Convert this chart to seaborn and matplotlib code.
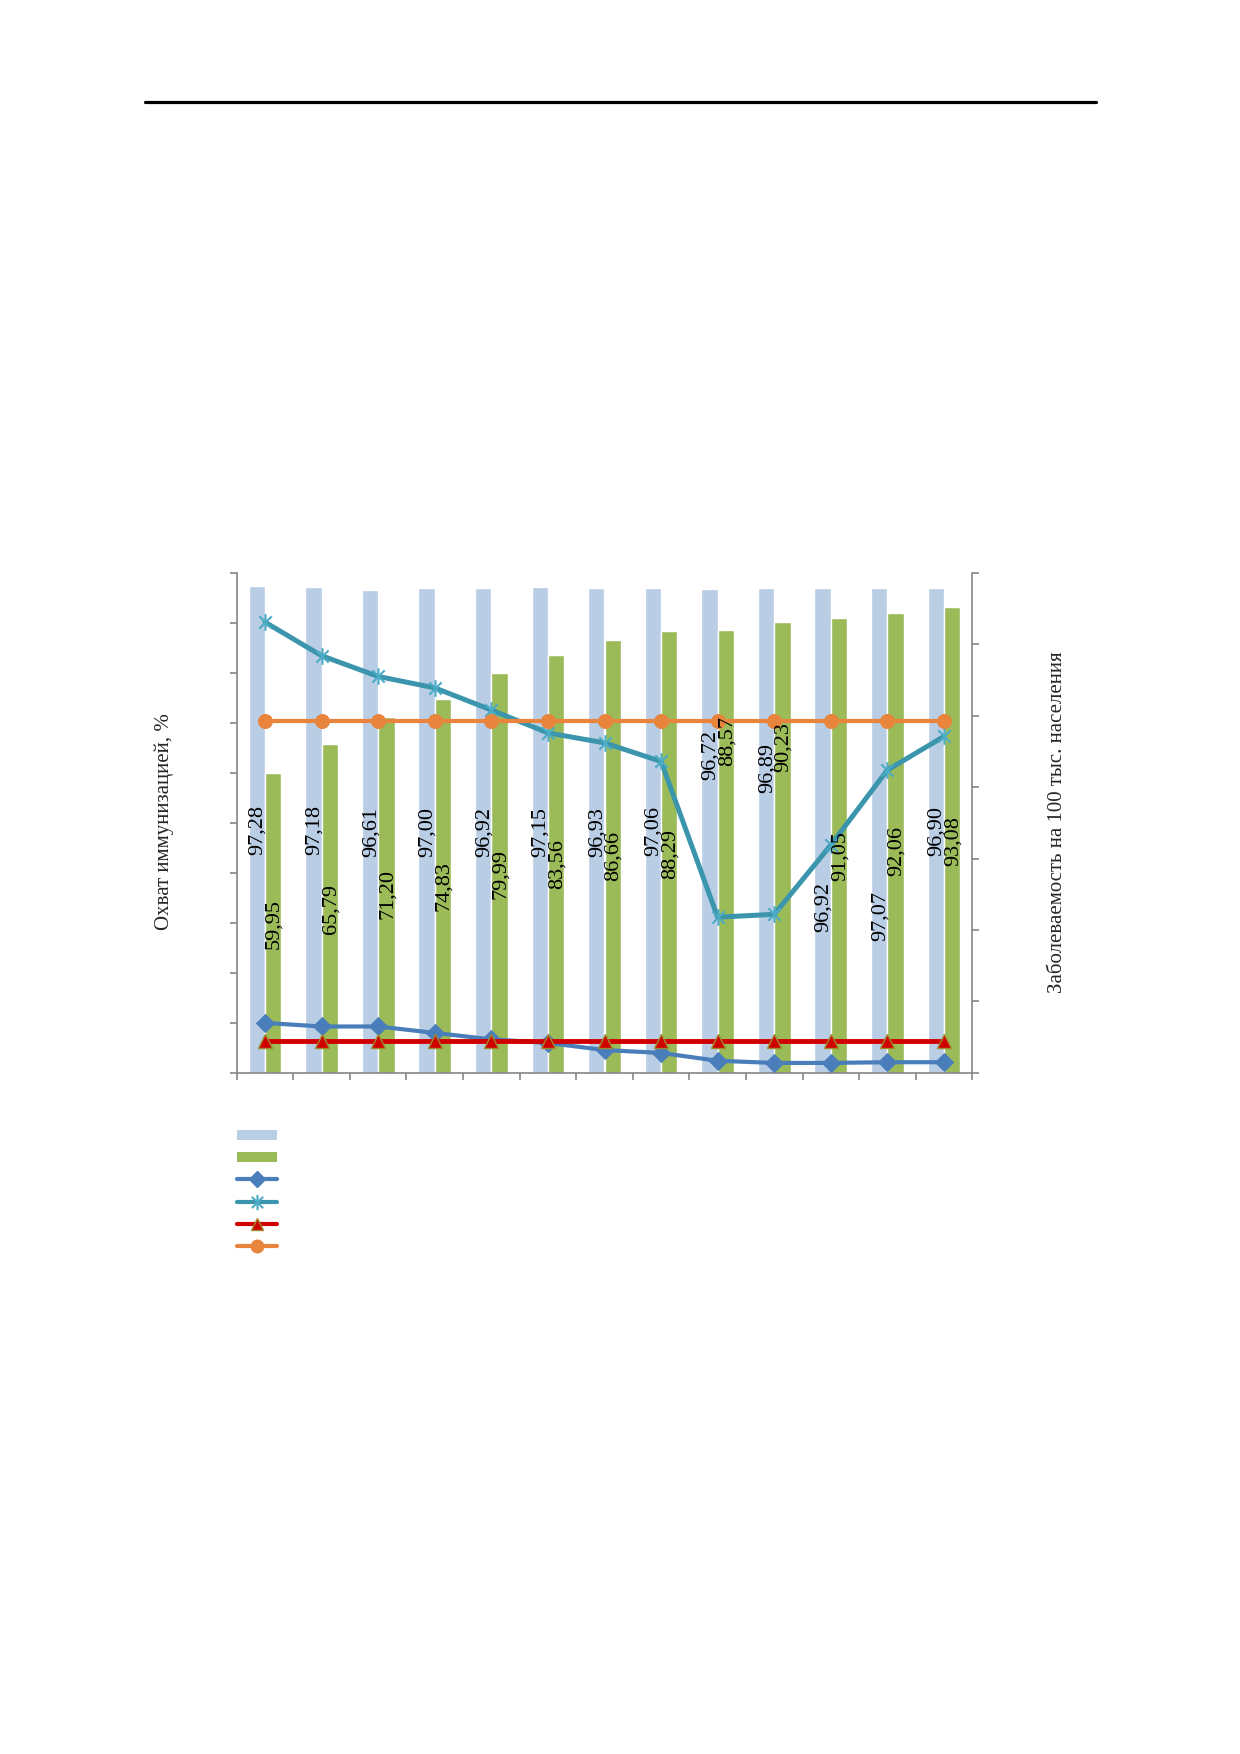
import numpy as np
import pandas as pd
import seaborn as sns
import matplotlib
matplotlib.use('Agg')
from matplotlib import pyplot as plt
from matplotlib.lines import Line2D
from matplotlib.patches import Patch
from matplotlib.path import Path

# data (no tick labels on the original)
years = ['2006', '2007', '2008', '2009', '2010', '2011', '2012',
         '2013', '2014', '2015', '2016', '2017', '2018']
coverage_a = [97.28, 97.18, 96.61, 97.00, 96.92, 97.15, 96.93,
              97.06, 96.72, 96.89, 96.92, 97.07, 96.90]
coverage_b = [59.95, 65.79, 71.20, 74.83, 79.99, 83.56, 86.66,
              88.29, 88.57, 90.23, 91.05, 92.06, 93.08]
# right axis (incidence), units chosen so the axis runs 0..7
incid_diamond = [0.70, 0.65, 0.65, 0.56, 0.47, 0.42, 0.32,
                 0.28, 0.17, 0.14, 0.14, 0.15, 0.15]
incid_star = [6.31, 5.84, 5.55, 5.39, 5.08, 4.76, 4.62,
              4.36, 2.18, 2.22, 3.19, 4.24, 4.71]
level_triangle = [0.44, 0.44, 0.44, 0.44, 0.44, 0.44, 0.44,
                  0.44, 0.44, 0.44, 0.44, 0.44, 0.44]
level_circle = [4.93, 4.93, 4.93, 4.93, 4.93, 4.93, 4.93,
                4.93, 4.93, 4.93, 4.93, 4.93, 4.93]

# where the rotated value labels sit (left axis units)
label_pos_a = [48.6, 48.6, 48.2, 48.2, 48.2, 48.2, 48.2,
               48.4, 63.6, 61.0, 33.2, 31.3, 48.4]
label_pos_b = [29.8, 32.8, 35.8, 37.3, 39.8, 41.8, 43.4,
               43.8, 66.3, 65.1, 43.4, 44.4, 46.4]

c_bar_a = '#B9CDE5'
c_bar_b = '#9BBB59'
c_diamond = '#4A7EBB'
c_star_line = '#3A95AD'
c_star = '#4BACC6'
c_tri = '#D00000'
c_circle = '#E8843C'
c_axis = '#868686'

sns.set_style('white')
plt.rcParams['font.family'] = ['Liberation Serif', 'DejaVu Serif']

df = pd.DataFrame({'year': years * 2,
                   'value': coverage_a + coverage_b,
                   'series': ['a'] * len(years) + ['b'] * len(years)})

fig = plt.figure(figsize=(12.4, 17.54), dpi=100)
ax = fig.add_axes([0.1909, 0.3883, 0.5932, 0.2851])
sns.barplot(data=df, x='year', y='value', hue='series',
            palette=[c_bar_a, c_bar_b], width=0.58, saturation=1,
            legend=False, ax=ax)
ax.set_xlim(-0.5, len(years) - 0.5)
ax.set_ylim(0, 100)
ax.set_xticks(np.arange(-0.5, len(years), 1))
ax.set_xticklabels([])
ax.set_yticks(np.arange(0, 101, 10))
ax.set_yticklabels([])
ax.set_xlabel('')
ax.set_ylabel('')
for s in ['top', 'right']:
    ax.spines[s].set_visible(False)
for s in ['left', 'bottom']:
    ax.spines[s].set_color(c_axis)
    ax.spines[s].set_linewidth(1.2)
ax.tick_params(axis='both', direction='out', length=5, width=1.2,
               color=c_axis, left=True, bottom=True)

xs = np.arange(len(years))
ax2 = ax.twinx()
star = Path([(-1, -1), (1, 1), (-1, 1), (1, -1), (0, -1.35), (0, 1.35)],
            [Path.MOVETO, Path.LINETO] * 3)

sns.lineplot(x=xs, y=incid_diamond, ax=ax2, color=c_diamond, lw=3,
             marker='D', markersize=9, markeredgecolor=c_diamond)
sns.lineplot(x=xs, y=incid_star, ax=ax2, color=c_star_line, lw=3.6,
             marker=star, markersize=12, markerfacecolor='none',
             markeredgecolor=c_star, markeredgewidth=1.5)
sns.lineplot(x=xs, y=level_triangle, ax=ax2, color=c_tri, lw=3.5,
             marker='^', markersize=10, markeredgecolor='#A08A2E',
             markeredgewidth=1)
sns.lineplot(x=xs, y=level_circle, ax=ax2, color=c_circle, lw=3,
             marker='o', markersize=10, markeredgecolor=c_circle)
ax2.set_ylim(0, 7)
ax2.set_xlim(-0.5, len(years) - 0.5)
ax2.set_yticks(np.arange(0, 8, 1))
ax2.set_yticklabels([])
ax2.set_ylabel('')
for s in ['top', 'left', 'bottom']:
    ax2.spines[s].set_visible(False)
ax2.spines['right'].set_color(c_axis)
ax2.spines['right'].set_linewidth(1.2)
ax2.tick_params(axis='y', direction='out', length=5, width=1.2,
                color=c_axis, right=True)

# value labels, drawn on top of the lines (left axis coordinates)
for i in range(len(years)):
    ax2.text(xs[i] - 0.13, label_pos_a[i], f'{coverage_a[i]:.2f}'.replace('.', ','),
             transform=ax.transData, rotation=90, ha='center', va='center',
             fontsize=16, color='black', zorder=5)
    ax2.text(xs[i] + 0.16, label_pos_b[i], f'{coverage_b[i]:.2f}'.replace('.', ','),
             transform=ax.transData, rotation=90, ha='center', va='center',
             fontsize=16, color='black', zorder=5)

# axis titles
fig.text(164 / 1240, 1 - 822 / 1754, 'Охват иммунизацией, %', rotation=90,
         ha='center', va='center', fontsize=15)
fig.text(1058 / 1240, 1 - 822 / 1754, 'Заболеваемость на 100 тыс. населения',
         rotation=90, ha='center', va='center', fontsize=15)

# legend without text, as in the original
handles = [Patch(facecolor=c_bar_a, edgecolor='none'),
           Patch(facecolor=c_bar_b, edgecolor='none'),
           Line2D([], [], color=c_diamond, lw=3, marker='D', markersize=8),
           Line2D([], [], color=c_star_line, lw=3, marker=star, markersize=11,
                  markerfacecolor='none', markeredgecolor=c_star,
                  markeredgewidth=1.5),
           Line2D([], [], color=c_tri, lw=3, marker='^', markersize=9,
                  markeredgecolor='#A08A2E'),
           Line2D([], [], color=c_circle, lw=3, marker='o', markersize=9)]
fig.legend(handles, [' '] * 6, loc='upper left',
           bbox_to_anchor=(237 / 1240, 1 - 1130 / 1754), frameon=False,
           fontsize=10, handlelength=2.9, handleheight=0.7, labelspacing=0.66,
           borderpad=0, borderaxespad=0, handletextpad=0.3)

# rule at the top of the page
fig.add_artist(Line2D([145 / 1240, 1096 / 1240], [1 - 101.7 / 1754] * 2,
                      color='black', lw=2.3))

fig.savefig('out.png', dpi=100)
plt.close('all')
